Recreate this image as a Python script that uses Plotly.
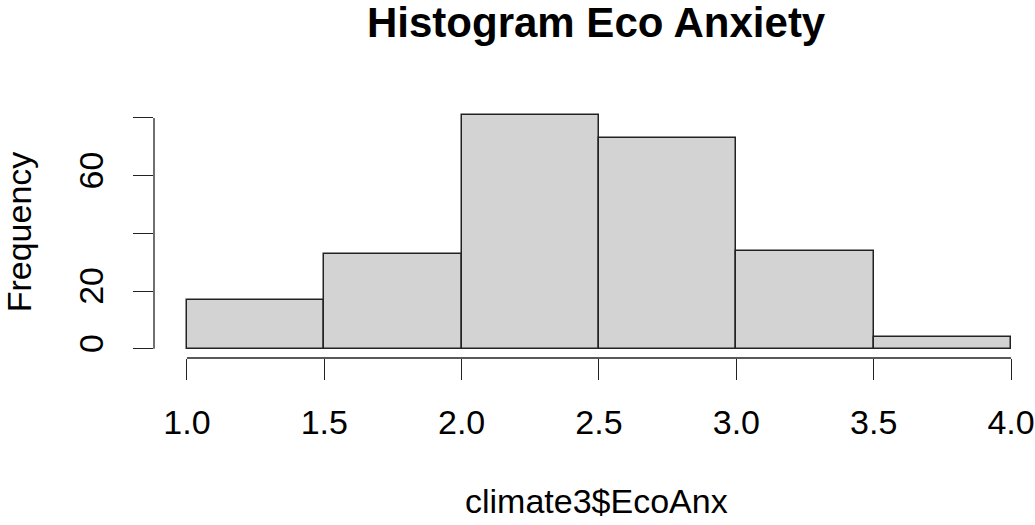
import plotly.graph_objects as go

# Histogram data (bin edges and counts)
bin_left = [1.0, 1.5, 2.0, 2.5, 3.0, 3.5]
bin_width = 0.5
counts = [17, 33, 81, 73, 34, 4]

x_ticks = [1.0, 1.5, 2.0, 2.5, 3.0, 3.5, 4.0]
x_ticklabels = ["1.0", "1.5", "2.0", "2.5", "3.0", "3.5", "4.0"]
y_ticks = [0, 20, 40, 60, 80]
y_ticklabels = ["0", "20", "", "60", ""]

title_text = "Histogram Eco Anxiety"
x_title = "climate3$EcoAnx"
y_title = "Frequency"

FONT = "Liberation Sans, Arial, sans-serif"
W, H = 1035, 525
L, R, T, B = 154, 0, 106, 167
PW, PH = W - L - R, H - T - B

centers = [b + bin_width / 2 for b in bin_left]

fig = go.Figure()
fig.add_trace(go.Bar(
    x=centers, y=counts, width=[bin_width] * len(counts),
    marker=dict(color="#D3D3D3", line=dict(color="#222222", width=1.5)),
    hoverinfo="x+y", showlegend=False,
))

fig.update_layout(
    width=W, height=H,
    margin=dict(l=L, r=R, t=T, b=B, pad=0),
    paper_bgcolor="white", plot_bgcolor="white",
    font=dict(family=FONT, size=34, color="black"),
    xaxis=dict(
        range=[0.8801, 4.0799], showgrid=False, zeroline=False, showline=False,
        tickmode="array", tickvals=x_ticks, ticktext=x_ticklabels,
        ticks="outside", ticklen=21, tickwidth=1.3, tickcolor="#222222",
        tickfont=dict(size=34, family=FONT, color="black"),
        ticklabelstandoff=13, ticklabeloverflow="allow",
    ),
    yaxis=dict(
        range=[-3.22, 84.15], showgrid=False, zeroline=False, showline=False,
        tickmode="array", tickvals=y_ticks, ticktext=y_ticklabels,
        ticks="outside", ticklen=20, tickwidth=1.3, tickcolor="#222222",
        tickangle=-90,
        tickfont=dict(size=34, family=FONT, color="black"),
        ticklabelstandoff=16, ticklabeloverflow="allow",
    ),
    bargap=0,
    shapes=[
        dict(type="line", xref="x", yref="paper", x0=x_ticks[0], x1=x_ticks[-1],
             y0=0, y1=0, line=dict(color="#222222", width=1.3)),
        dict(type="line", xref="paper", yref="y", x0=0, x1=0,
             y0=y_ticks[0], y1=y_ticks[-1], line=dict(color="#222222", width=1.3)),
    ],
    annotations=[
        dict(text="<b>" + title_text + "</b>", xref="paper", yref="paper",
             x=(598 - L) / PW, y=1 + (T - 22) / PH,
             xanchor="center", yanchor="middle", showarrow=False,
             font=dict(size=42, family=FONT, color="black")),
        dict(text=x_title, xref="paper", yref="paper",
             x=(598 - L) / PW, y=-(501 - (H - B)) / PH,
             xanchor="center", yanchor="middle", showarrow=False,
             font=dict(size=34, family=FONT, color="black")),
        dict(text=y_title, xref="paper", yref="paper",
             x=(19 - L) / PW, y=0.5, textangle=-90,
             xanchor="center", yanchor="middle", showarrow=False,
             font=dict(size=34, family=FONT, color="black")),
    ],
)

fig.write_html("out.html")
